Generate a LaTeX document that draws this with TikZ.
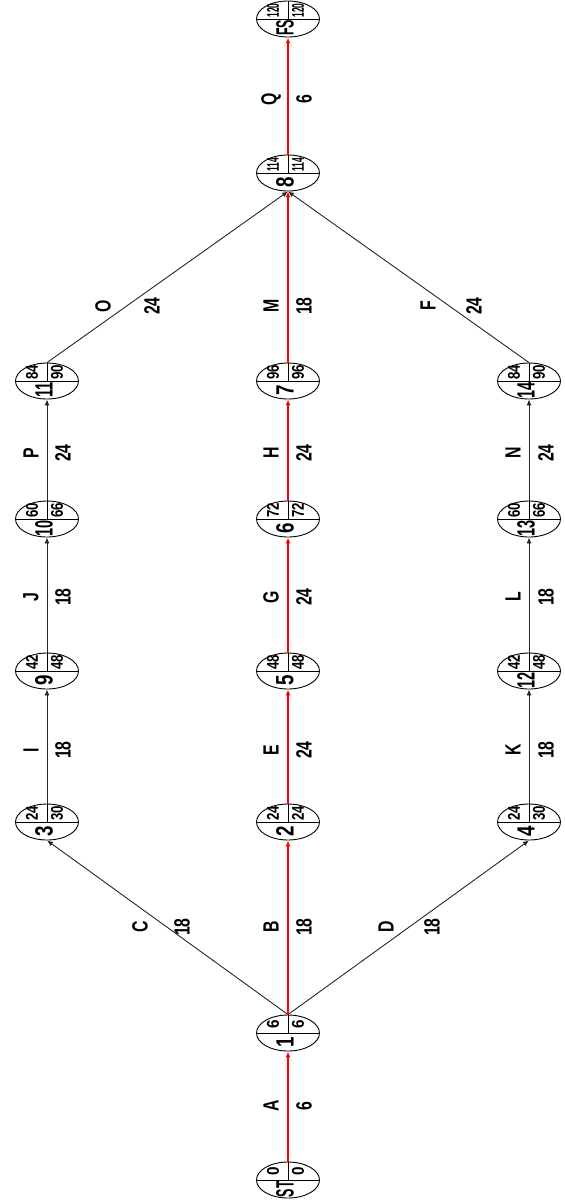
\documentclass[tikz,border=0pt]{standalone}
\usepackage{fontspec}
\setmainfont{Liberation Sans}
\usetikzlibrary{shapes.geometric,arrows.meta}
\tikzset{
 ev/.style={draw, ellipse, minimum width=63pt, minimum height=36pt, inner sep=0pt, line width=0.9pt},
 div/.style={line width=0.8pt},
 sm/.style={rotate=90, inner sep=0pt, font=\fontsize{17}{17}\selectfont\bfseries},
 bg/.style={rotate=90, inner sep=0pt, font=\fontsize{25}{25}\selectfont\bfseries},
 lab/.style={rotate=90, inner sep=0pt, font=\fontsize{22}{22}\selectfont\bfseries},
 crit/.style={red, line width=1.5pt, -{Latex[length=6pt,width=5pt]}},
 norm/.style={black!85, line width=0.9pt, -{Latex[length=6pt,width=5pt]}},
}
\newcommand\evt[9]{%
 \node[ev] (#1) at (#2,#3) {};
 \draw[div] (#1.west) -- (#1.east) (#1.center) -- (#1.north);
 \node[bg] (#1n) at (#2-3,#3+9) {\scalebox{#5}[1]{#4}};
 \node[sm] (#1l) at (#2-15,#3-8.5) {\scalebox{#7}[1]{#6}};
 \node[sm] (#1r) at (#2+10,#3-8.5) {\scalebox{#9}[1]{#8}};
}
\newcommand\elab[6]{%
 \node[lab] (l#1) at (#3,#5) {\scalebox{0.72}[1]{#1}};
 \node[lab] (n#1) at (#4,#5) {\scalebox{0.72}[1]{#2}};
}
\begin{document}
\begin{tikzpicture}[x=1pt,y=-1pt]
\useasboundingbox (0,0) rectangle (565,1203);
\evt{st}{288}{1180}{ST}{0.5}{0}{0.9}{0}{0.9}
\evt{e1}{288}{1033}{1}{0.75}{6}{0.9}{6}{0.9}
\evt{e2}{288}{822}{2}{0.75}{24}{0.78}{24}{0.78}
\evt{e3}{47}{822}{3}{0.75}{24}{0.78}{30}{0.78}
\evt{e4}{529}{822}{4}{0.75}{24}{0.78}{30}{0.78}
\evt{e5}{288}{671}{5}{0.75}{48}{0.78}{48}{0.78}
\evt{e9}{47}{671}{9}{0.75}{42}{0.78}{48}{0.78}
\evt{e12}{529}{671}{12}{0.58}{42}{0.78}{48}{0.78}
\evt{e6}{288}{519}{6}{0.75}{72}{0.78}{72}{0.78}
\evt{e10}{47}{519}{10}{0.58}{60}{0.78}{66}{0.78}
\evt{e13}{529}{519}{13}{0.58}{60}{0.78}{66}{0.78}
\evt{e7}{288}{381}{7}{0.75}{96}{0.78}{96}{0.78}
\evt{e11}{47}{381}{11}{0.58}{84}{0.78}{90}{0.78}
\evt{e14}{529}{381}{14}{0.58}{84}{0.78}{90}{0.78}
\evt{e8}{288}{173}{8}{0.75}{114}{0.5}{114}{0.5}
\evt{fs}{288}{19}{FS}{0.5}{120}{0.5}{120}{0.5}
% non-critical
\draw[norm] (e1.north) -- (e3.south);
\draw[norm] (e3.north) -- (e9.south);
\draw[norm] (e9.north) -- (e10.south);
\draw[norm] (e10.north) -- (e11.south);
\draw[norm] (e11.north) -- (e8.south);
\draw[norm] (e1.north) -- (e4.south);
\draw[norm] (e4.north) -- (e12.south);
\draw[norm] (e12.north) -- (e13.south);
\draw[norm] (e13.north) -- (e14.south);
\draw[norm] (e14.north) -- (e8.south);
% critical
\draw[crit] (st.north) -- (e1.south);
\draw[crit] (e1.north) -- (e2.south);
\draw[crit] (e2.north) -- (e5.south);
\draw[crit] (e5.north) -- (e6.south);
\draw[crit] (e6.north) -- (e7.south);
\draw[crit] (e7.north) -- (e8.south);
\draw[crit] (e8.north) -- (fs.south);
% labels
\elab{A}{6}{271}{304}{1106}{}
\elab{B}{18}{271}{304}{927}{}
\elab{C}{18}{140}{182}{927}{}
\elab{D}{18}{386}{432}{927}{}
\elab{I}{18}{31}{63}{750}{}
\elab{E}{24}{271}{304}{750}{}
\elab{K}{18}{513}{546}{750}{}
\elab{J}{18}{31}{63}{597}{}
\elab{G}{24}{271}{304}{597}{}
\elab{L}{18}{513}{546}{597}{}
\elab{P}{24}{31}{63}{453}{}
\elab{H}{24}{271}{304}{453}{}
\elab{N}{24}{513}{546}{453}{}
\elab{O}{24}{103}{152}{306}{}
\elab{M}{18}{271}{304}{306}{}
\elab{F}{24}{428}{474}{306}{}
\elab{Q}{6}{271}{304}{99}{}
\end{tikzpicture}
\end{document}
